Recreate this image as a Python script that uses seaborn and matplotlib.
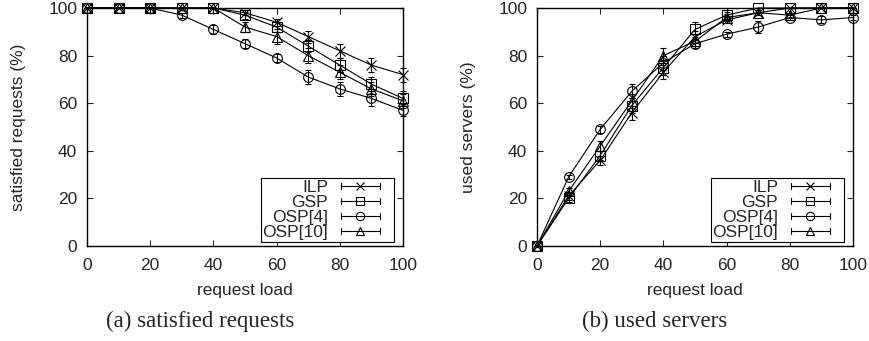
import matplotlib
matplotlib.use("Agg")
import matplotlib.pyplot as plt
import numpy as np
import pandas as pd
import seaborn as sns
from matplotlib.legend_handler import HandlerBase
from matplotlib.lines import Line2D

LOADS = [0, 10, 20, 30, 40, 50, 60, 70, 80, 90, 100]
ALGOS = ["ILP", "GSP", "OSP[4]", "OSP[10]"]

# (a) satisfied requests (%)
SAT_ILP = [100, 100, 100, 100, 100, 98, 94, 88, 82, 76, 72]
SAT_GSP = [100, 100, 100, 100, 100, 97, 92, 84, 76, 68, 62]
SAT_OSP4 = [100, 100, 100, 97, 91, 85, 79, 71, 66, 62, 57]
SAT_OSP10 = [100, 100, 100, 100, 100, 92, 88, 80, 73, 66, 61]
SAT_ERR_ILP = [0, 0, 0, 0, 0, 1, 1.5, 2.5, 3, 3, 3]
SAT_ERR_GSP = [0, 0, 0, 0, 0, 1.5, 2, 2.5, 3, 3, 3]
SAT_ERR_OSP4 = [0, 0, 0, 1, 2, 2, 1.5, 3, 3, 3, 2.5]
SAT_ERR_OSP10 = [0, 0, 0, 0, 0, 2, 3, 3, 3, 3, 3]

# (b) used servers (%)
USED_ILP = [0, 21, 36, 56, 73, 88, 95, 98, 100, 100, 100]
USED_GSP = [0, 20, 38, 59, 75, 91, 97, 100, 100, 100, 100]
USED_OSP4 = [0, 29, 49, 65, 77, 85, 89, 92, 96, 95, 96]
USED_OSP10 = [0, 23, 42, 61, 80, 86, 96, 98, 97, 100, 100]
USED_ERR_ILP = [0, 1.5, 2, 3, 3, 2.5, 1.5, 1, 0, 0, 0]
USED_ERR_GSP = [0, 1.5, 2, 3, 3, 3, 1.5, 0, 0, 0, 0]
USED_ERR_OSP4 = [0, 1, 1.5, 3, 3, 2, 1, 2.5, 1, 1.5, 1]
USED_ERR_OSP10 = [0, 1.5, 2, 3, 3, 3, 1.5, 1, 1, 0, 0]

MARKERS = {"ILP": "x", "GSP": "s", "OSP[4]": "o", "OSP[10]": "^"}
FS = 12.5


def long_frame(series, errors):
    rows = []
    for algo, vals, errs in zip(ALGOS, series, errors):
        for x, v, e in zip(LOADS, vals, errs):
            rows.append({"load": x, "value": v, "err": e, "algo": algo})
    return pd.DataFrame(rows)


class GnuplotKey(HandlerBase):
    """Legend sample like gnuplot's: horizontal bar with end ticks + marker."""

    def create_artists(self, legend, orig_handle, xdescent, ydescent,
                       width, height, fontsize, trans):
        y = height / 2 - ydescent
        x0 = -xdescent + 9
        x1 = width - xdescent - 9
        kw = dict(color="black", lw=0.8, transform=trans)
        bar = Line2D([x0, x1], [y, y], **kw)
        c0 = Line2D([x0, x0], [y - 2, y + 2], **kw)
        c1 = Line2D([x1, x1], [y - 2, y + 2], **kw)
        mk = Line2D([(x0 + x1) / 2], [y], marker=orig_handle.get_marker(),
                    markersize=6, markerfacecolor="none",
                    markeredgecolor="black", markeredgewidth=0.8,
                    linestyle="none", transform=trans)
        return [bar, c0, c1, mk]


sat = long_frame([SAT_ILP, SAT_GSP, SAT_OSP4, SAT_OSP10],
                 [SAT_ERR_ILP, SAT_ERR_GSP, SAT_ERR_OSP4, SAT_ERR_OSP10])
used = long_frame([USED_ILP, USED_GSP, USED_OSP4, USED_OSP10],
                  [USED_ERR_ILP, USED_ERR_GSP, USED_ERR_OSP4, USED_ERR_OSP10])

sns.set_style("ticks")
plt.rcParams["font.family"] = ["Liberation Sans", "DejaVu Sans"]
plt.rcParams["font.size"] = FS

fig = plt.figure(figsize=(8.7, 3.41), dpi=100)
ax_a = fig.add_axes([87 / 870, 95 / 341, 316 / 870, 238 / 341])
ax_b = fig.add_axes([537 / 870, 95 / 341, 316 / 870, 238 / 341])


def draw(ax, df, ylabel):
    for algo in ALGOS:
        sub = df[df["algo"] == algo]
        sns.lineplot(
            data=sub, x="load", y="value", color="black",
            marker=MARKERS[algo], markersize=7, markerfacecolor="none",
            markeredgecolor="black", markeredgewidth=0.8, linewidth=0.8,
            clip_on=False, legend=False, ax=ax,
        )
        ax.errorbar(sub["load"], sub["value"], yerr=sub["err"], fmt="none",
                    ecolor="black", elinewidth=0.8, capsize=2.5, capthick=0.8,
                    clip_on=False)
    ax.set_xlim(0, 100)
    ax.set_ylim(0, 100)
    ax.set_xticks(range(0, 101, 20))
    ax.set_yticks(range(0, 101, 20))
    ax.tick_params(direction="in", length=4, width=0.8, top=True, right=True,
                   labelsize=FS)
    ax.tick_params(axis="x", pad=9)
    ax.tick_params(axis="y", pad=7)
    for s in ax.spines.values():
        s.set_linewidth(1.0)
        s.set_color("black")
    ax.set_xlabel("request load", fontsize=FS, labelpad=7)
    ax.set_ylabel(ylabel, fontsize=FS, labelpad=16)

    handles = [Line2D([], [], marker=MARKERS[a]) for a in ALGOS]
    leg = ax.legend(handles, ALGOS, loc="lower right",
                    bbox_to_anchor=((394 - 87) / 316, 4 / 238),
                    markerfirst=False, frameon=True, fancybox=False,
                    edgecolor="black", framealpha=1, borderaxespad=0,
                    handlelength=3.7, labelspacing=0.0, borderpad=0.1,
                    handletextpad=0.0, fontsize=FS,
                    handler_map={Line2D: GnuplotKey()})
    leg.get_frame().set_linewidth(0.8)


draw(ax_a, sat, "satisfied requests (%)")
draw(ax_b, used, "used servers (%)")

fig.text(200 / 870, 1 - 321 / 341, "(a) satisfied requests", ha="center",
         va="center", fontsize=16.5, family=["Liberation Serif", "DejaVu Serif"])
fig.text(655 / 870, 1 - 321 / 341, "(b) used servers", ha="center",
         va="center", fontsize=16.5, family=["Liberation Serif", "DejaVu Serif"])

fig.savefig("out.png", dpi=100)
